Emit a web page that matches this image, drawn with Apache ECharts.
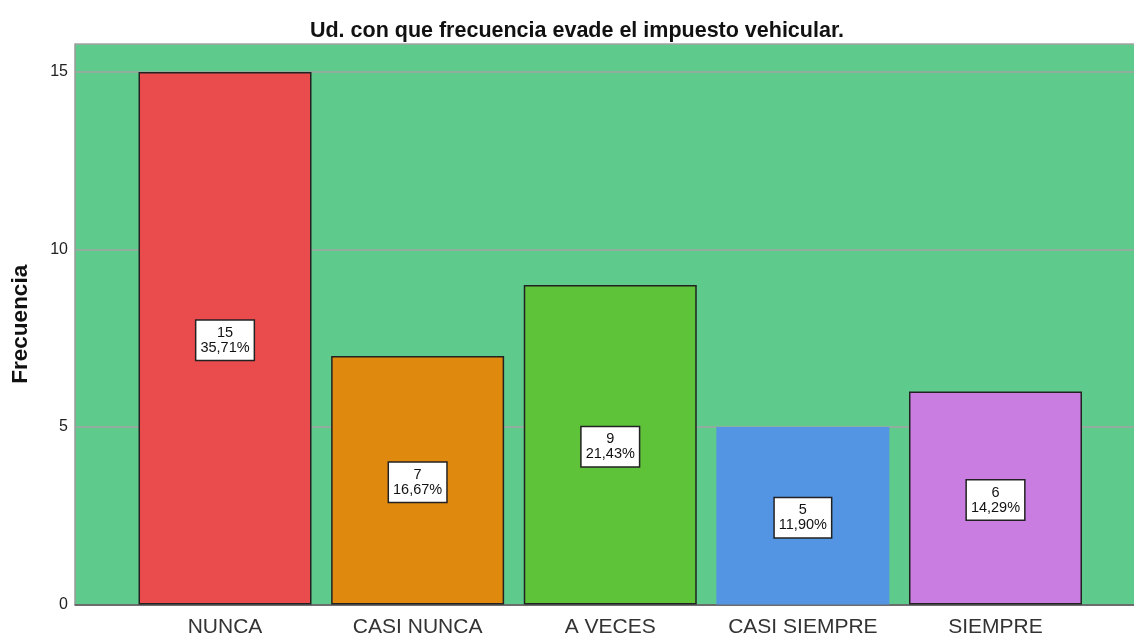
<!DOCTYPE html>
<html>
<head>
<meta charset="utf-8">
<script src="https://cdn.jsdelivr.net/npm/echarts@6/dist/echarts.min.js"></script>
<style>
  html, body { margin: 0; padding: 0; background: #fff; }
  #chart { width: 1134px; height: 636px; }
</style>
</head>
<body>
<div id="chart"></div>
<script>
  // data
  var categories = ['NUNCA', 'CASI NUNCA', 'A VECES', 'CASI SIEMPRE', 'SIEMPRE'];
  var counts = [15, 7, 9, 5, 6];
  var colors = ['#ea4b4d', '#e0890f', '#5fc33a', '#5495e3', '#c97de1'];
  var borders = [1.5, 1.5, 1.5, 0, 1.5];
  var yTicks = [0, 5, 10, 15];

  var total = counts.reduce(function (a, b) { return a + b; }, 0);
  var font = '"Liberation Sans", Arial, sans-serif';
  var yMax = 15.79;

  var barData = counts.map(function (v, i) {
    return {
      value: v,
      itemStyle: { color: colors[i], borderColor: '#222', borderWidth: borders[i] }
    };
  });

  var chart = echarts.init(document.getElementById('chart'));
  var option = {
    animation: false,
    title: {
      text: 'Ud. con que frecuencia evade el impuesto vehicular.',
      left: 572, top: 15, textAlign: 'center',
      textStyle: { fontFamily: font, fontSize: 21.5, fontWeight: 'bold', color: '#111' }
    },
    grid: [
      // background grid with the y axis
      { left: 75, right: 0, top: 44, bottom: 31.5, show: true, backgroundColor: '#5ecb8c', borderWidth: 0,
        outerBoundsMode: 'none', containLabel: false },
      // data grid
      { left: 128.7, right: 42.2, top: 44, bottom: 31.5, outerBoundsMode: 'none', containLabel: false }
    ],
    xAxis: [
      { gridIndex: 0, type: 'value', min: 0, max: 1,
        axisLine: { show: true, lineStyle: { color: '#555', width: 1.5 } },
        axisTick: { show: false }, axisLabel: { show: false }, splitLine: { show: false } },
      { gridIndex: 1, type: 'category', data: categories,
        axisLine: { show: false }, axisTick: { show: false },
        axisLabel: { interval: 0, fontFamily: font, fontSize: 21, color: '#333', margin: 12 } }
    ],
    yAxis: [
      { gridIndex: 0, type: 'value', min: 0, max: yMax, interval: 5,
        name: 'Frecuencia', nameLocation: 'middle', nameGap: 43, nameRotate: 90,
        nameTextStyle: { fontFamily: font, fontSize: 22.5, fontWeight: 'bold', color: '#111' },
        axisLine: { show: true, lineStyle: { color: '#9a9a9a', width: 1.5 } },
        axisTick: { show: false },
        axisLabel: { fontFamily: font, fontSize: 16, color: '#222', margin: 7,
          formatter: function (v) { return yTicks.indexOf(v) >= 0 ? String(v) : ''; } },
        splitLine: { show: true, lineStyle: { color: '#a3a3a3', width: 1.5 } } },
      { gridIndex: 1, type: 'value', min: 0, max: yMax, show: false, splitLine: { show: false } }
    ],
    series: [{
      type: 'bar',
      xAxisIndex: 1, yAxisIndex: 1,
      barWidth: 173,
      data: barData,
      label: {
        show: true, position: 'inside', offset: [0, 2],
        formatter: function (p) {
          var pct = (p.value / total * 100).toFixed(2).replace('.', ',');
          return p.value + '\n' + pct + '%';
        },
        fontFamily: font, fontSize: 14.5, lineHeight: 15, color: '#111',
        backgroundColor: '#fff', borderColor: '#222', borderWidth: 1.5,
        padding: [5, 4, 4, 4]
      }
    }]
  };
  chart.setOption(option);
</script>
</body>
</html>
